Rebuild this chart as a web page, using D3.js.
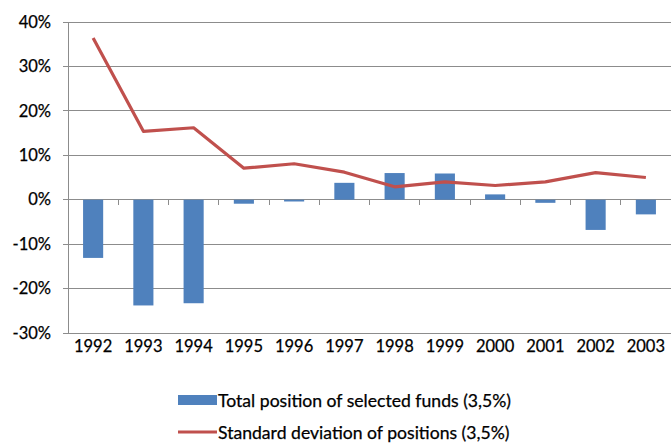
<!DOCTYPE html>
<html><head><meta charset="utf-8">
<script src="https://cdn.jsdelivr.net/npm/d3@7"></script>
<style>body{margin:0;background:#fff}svg{display:block}text{font-family:Lato,"Open Sans",sans-serif;fill:#000;stroke:#000;stroke-width:0.25px}</style>
</head><body><svg id="c" width="671" height="443"></svg>
<script>
const years = ["1992","1993","1994","1995","1996","1997","1998","1999","2000","2001","2002","2003"];
const totalPosition = [-13.1,-23.8,-23.3,-0.9,-0.4,3.8,6.0,5.9,1.2,-0.7,-6.8,-3.3];
const stdDeviation = [36.4,15.4,16.2,7.1,8.1,6.2,2.9,4.0,3.2,4.0,6.1,5.0];
const yTicks = [-30,-20,-10,0,10,20,30,40];
const legendLabels = ["Total position of selected funds (3,5%)","Standard deviation of positions (3,5%)"];

const svg = d3.select("#c");
const L=68, R=671, T=22, B=333;
const x = d3.scaleBand().domain(years).range([L,R]).paddingInner(0.6).paddingOuter(0.3);
const xs = d3.scaleBand().domain(years).range([L,R]);
const y = d3.scaleLinear().domain([-30,40]).range([B,T]);
const grid="#8c8c8c";

svg.append("g").selectAll("line").data(yTicks).join("line")
 .attr("x1",L-5).attr("x2",R).attr("y1",d=>y(d)).attr("y2",d=>y(d))
 .attr("stroke",grid).attr("stroke-width",1).attr("shape-rendering","crispEdges");
svg.append("line").attr("x1",L).attr("x2",L).attr("y1",T).attr("y2",B)
 .attr("stroke",grid).attr("shape-rendering","crispEdges");
svg.append("g").selectAll("text").data(yTicks).join("text")
 .attr("x",L-17).attr("y",d=>y(d)).attr("dy","0.35em").attr("text-anchor","end")
 .attr("font-size",16.5).text(d=>d+"%");

svg.append("g").selectAll("rect").data(years).join("rect")
 .attr("x",d=>x(d)).attr("width",x.bandwidth())
 .attr("y",(d,i)=>y(Math.max(0,totalPosition[i])))
 .attr("height",(d,i)=>Math.abs(y(totalPosition[i])-y(0)))
 .attr("fill","#4F81BD");

svg.append("g").selectAll("line").data(years.slice(1)).join("line")
 .attr("x1",d=>xs(d)).attr("x2",d=>xs(d)).attr("y1",y(0)).attr("y2",y(0)+5)
 .attr("stroke",grid).attr("shape-rendering","crispEdges");

const line = d3.line().x((d,i)=>xs(years[i])+xs.bandwidth()/2).y(d=>y(d));
svg.append("path").datum(stdDeviation).attr("d",line).attr("fill","none")
 .attr("stroke","#C0504D").attr("stroke-width",3.2).attr("stroke-linejoin","round");

svg.append("g").selectAll("text").data(years).join("text")
 .attr("x",d=>xs(d)+xs.bandwidth()/2).attr("y",346).attr("dy","0.35em").attr("text-anchor","middle")
 .attr("font-size",16.5).text(d=>d);

const lg = svg.append("g");
lg.append("rect").attr("x",178).attr("y",395).attr("width",39).attr("height",10).attr("fill","#4F81BD");
lg.append("text").attr("x",218).attr("y",401).attr("dy","0.35em").attr("font-size",17.6).text(legendLabels[0]);
lg.append("line").attr("x1",178).attr("x2",217).attr("y1",432).attr("y2",432).attr("stroke","#C0504D").attr("stroke-width",3);
lg.append("text").attr("x",218).attr("y",433).attr("dy","0.35em").attr("font-size",17.6).text(legendLabels[1]);
</script></body></html>
